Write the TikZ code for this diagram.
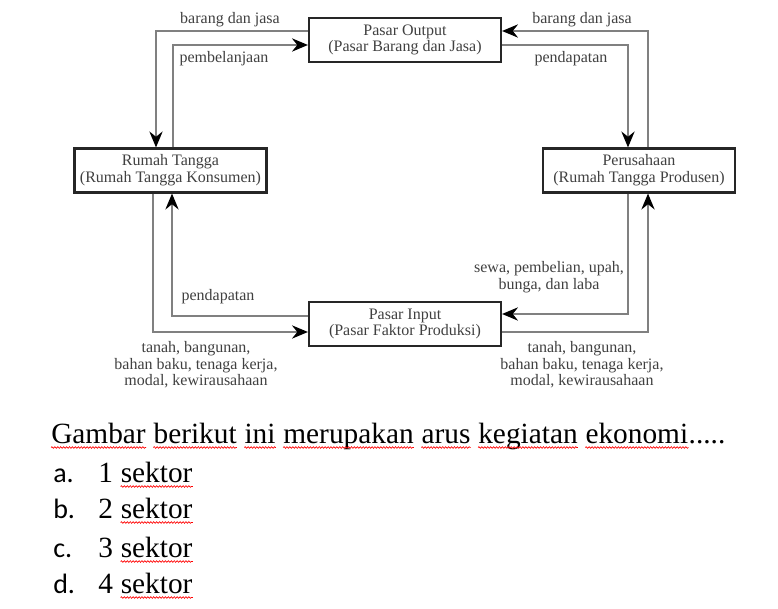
\documentclass[tikz,border=0pt]{standalone}
\usepackage{fontspec}
\setmainfont{Liberation Serif}
\newfontfamily\labelfont{Carlito}
\usetikzlibrary{arrows.meta,calc,positioning,decorations.pathmorphing}

\begin{document}
\begin{tikzpicture}[x=0.75pt, y=-0.75pt,
        box/.style={draw=black!85, line width=1.6pt, rectangle, fill=white, align=center, text=black!75, font=\fontsize{12}{12.5}\selectfont, minimum width=144pt, minimum height=33pt, inner sep=0pt},
        flow/.style={-{Stealth[length=12pt, width=10pt, inset=4pt, color=black]}, draw=black!50, line width=0.9pt},
        lbl/.style={text=black!75, font=\fontsize{12}{12.5}\selectfont, align=center, inner sep=0pt},
        ques/.style={font=\fontsize{22}{26}\selectfont, inner sep=0pt, anchor=base west},
        wave/.style={draw=red, line width=0.5pt, decorate, decoration={snake, amplitude=0.6pt, segment length=2.2pt}}
    ]
        \useasboundingbox (0,0) rectangle (778,609);

        % Markets and sectors
        \node[box] (out) at (405,40) {Pasar Output\\(Pasar Barang dan Jasa)};
        \node[box] (rt) at (170.5,170.5) {Rumah Tangga\\(Rumah Tangga Konsumen)};
        \node[box] (pr) at (639,170.5) {Perusahaan\\(Rumah Tangga Produsen)};
        \node[box] (inp) at (405,324) {Pasar Input\\(Pasar Faktor Produksi)};

        % Rumah Tangga <-> Pasar Output
        \draw[flow] ($(out.west)+(0,-9)$) -| ($(rt.north)+(-14.5,0)$);
        \draw[flow] ($(rt.north)+(2.5,0)$) |- ($(out.west)+(0,5)$);

        % Perusahaan <-> Pasar Output
        \draw[flow] ($(pr.north)+(9,0)$) |- ($(out.east)+(0,-9)$);
        \draw[flow] ($(out.east)+(0,5)$) -| ($(pr.north)+(-11,0)$);

        % Rumah Tangga <-> Pasar Input
        \draw[flow] ($(rt.south)+(-17.5,0)$) |- ($(inp.west)+(0,8)$);
        \draw[flow] ($(inp.west)+(0,-8)$) -| ($(rt.south)+(1.5,0)$);

        % Perusahaan <-> Pasar Input
        \draw[flow] ($(pr.south)+(-11,0)$) |- ($(inp.east)+(0,-10)$);
        \draw[flow] ($(inp.east)+(0,8)$) -| ($(pr.south)+(9,0)$);

        % Flow labels
        \node[lbl] (bj1) at (230,20) {barang dan jasa};
        \node[lbl] (bel) at (224,59) {pembelanjaan};
        \node[lbl] (bj2) at (582,20) {barang dan jasa};
        \node[lbl] (pd1) at (571,59) {pendapatan};
        \node[lbl] (pd2) at (218,297) {pendapatan};
        \node[lbl] (sewa) at (549,277) {sewa, pembelian, upah,\\bunga, dan laba};
        \node[lbl] (fak1) at (196,365) {tanah, bangunan,\\bahan baku, tenaga kerja,\\modal, kewirausahaan};
        \node[lbl] (fak2) at (582,365) {tanah, bangunan,\\bahan baku, tenaga kerja,\\modal, kewirausahaan};

        % Question, one node per word
        \node[ques] (w0) at (51,443) {Gambar};
        \foreach \w [count=\i, remember=\i as \j (initially 0)] in {berikut,ini,merupakan,arus,kegiatan,ekonomi}
            \node[ques, base right=5.5pt of w\j] (w\i) {\w};
        \node[ques, base right=0pt of w6] (dots) {.....};
        \foreach \i in {0,...,6}
            \draw[wave] ($(w\i.base west)+(0,4.5)$) -- ($(w\i.base east)+(0,4.5)$);

        % Answer options
        \foreach \ltr/\num/\yy in {a/1/482, b/2/518, c/3/557, d/4/593} {
            \node[ques, font=\labelfont\fontsize{21}{26}\selectfont] (let\ltr) at (53,\yy) {\ltr.};
            \node[ques] (num\ltr) at (98,\yy) {\num};
            \node[ques, base right=5.5pt of num\ltr] (opt\ltr) {sektor};
            \draw[wave] ($(opt\ltr.base west)+(0,4.5)$) -- ($(opt\ltr.base east)+(0,4.5)$);
        }
    \end{tikzpicture}
\end{document}
